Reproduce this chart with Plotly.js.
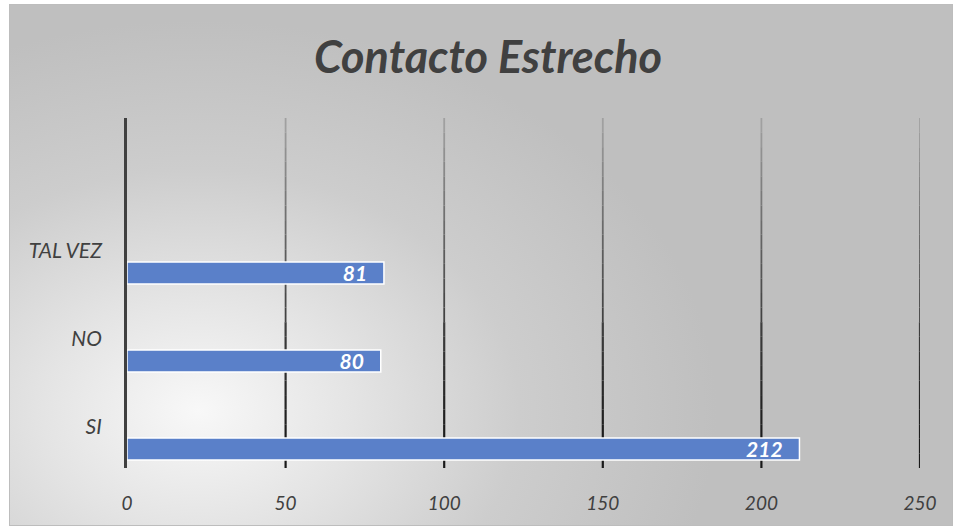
<!DOCTYPE html>
<html><head><meta charset="utf-8">
<script src="https://cdn.plot.ly/plotly-3.0.1.min.js"></script>
<style>
html,body{margin:0;padding:0;width:955px;height:528px;overflow:hidden;background:#fff;}
#frame{position:absolute;left:9px;top:4px;width:944px;height:522px;box-sizing:border-box;border:1px solid #bdbdbd;
background: radial-gradient(ellipse 55% 75% at 20% 78%, #f8f8f8 0%, #e4e4e4 30%, #cdcdcd 62%, #bfbfbf 100%);}
#chart{position:absolute;left:0;top:0;width:955px;height:528px;}
</style></head>
<body>
<div id="frame"></div>
<div id="chart"></div>
<script>
const categories = ['SI', 'NO', 'TAL VEZ'];
const values = [212, 80, 81];
const xTicks = [0, 50, 100, 150, 200, 250];
const chartTitle = 'Contacto Estrecho';

const FONT = 'Lato, "Open Sans", sans-serif';

// gradient gridlines (dark at bottom, fading to top)
const shapes = [];
const N = 24;
xTicks.slice(1).forEach(v => {
  for (let k = 0; k < N; k++) {
    const t = k / (N - 1);
    const g = Math.round(25 + 135 * Math.pow(t, 1.4));
    shapes.push({
      type: 'line', xref: 'x', yref: 'paper',
      x0: v, x1: v, y0: k / N, y1: (k + 1) / N,
      line: {color: `rgb(${g},${g},${g})`, width: t < 0.4 ? 2.2 : 1.8},
      layer: 'below'
    });
  }
});

const trace = {
  type: 'bar', orientation: 'h',
  y: categories, x: values,
  width: 0.25, offset: -0.375,
  marker: {color: '#5a80c9', line: {color: '#ffffff', width: 1.5}},
  text: values.map(String),
  texttemplate: '%{text}\u00a0\u00a0\u00a0',
  textposition: 'inside', insidetextanchor: 'end',
  constraintext: 'none',
  textfont: {family: FONT, size: 21, color: '#ffffff', weight: 'bold', style: 'italic'},
  hoverinfo: 'none', cliponaxis: false
};

const layout = {
  width: 955, height: 528,
  paper_bgcolor: 'rgba(0,0,0,0)', plot_bgcolor: 'rgba(0,0,0,0)',
  margin: {l: 127, r: 35, t: 118, b: 60},
  showlegend: false,
  title: {text: chartTitle, font: {family: FONT, size: 45, color: '#404040', weight: 'bold', style: 'italic'},
          x: 488 / 955, xanchor: 'center', xref: 'container', y: 1 - 57 / 528, yanchor: 'middle', yref: 'container'},
  xaxis: {range: [0, 250], tickvals: xTicks, ticktext: xTicks.map(String), showgrid: false, zeroline: false,
          ticks: '', ticklabelstandoff: 22, showline: false,
          tickfont: {family: FONT, size: 19, color: '#404040', style: 'italic'}},
  yaxis: {type: 'category', categoryorder: 'array', categoryarray: categories, range: [-0.466, 3.51],
          showgrid: false, zeroline: false, showline: true, linecolor: '#404040', linewidth: 3,
          ticks: '', ticklabelstandoff: 18,
          tickfont: {family: FONT, size: 21, color: '#404040', style: 'italic'}},
  bargap: 0,
  shapes: shapes
};

Plotly.newPlot('chart', [trace], layout, {displayModeBar: false, staticPlot: true});
</script>
</body></html>
